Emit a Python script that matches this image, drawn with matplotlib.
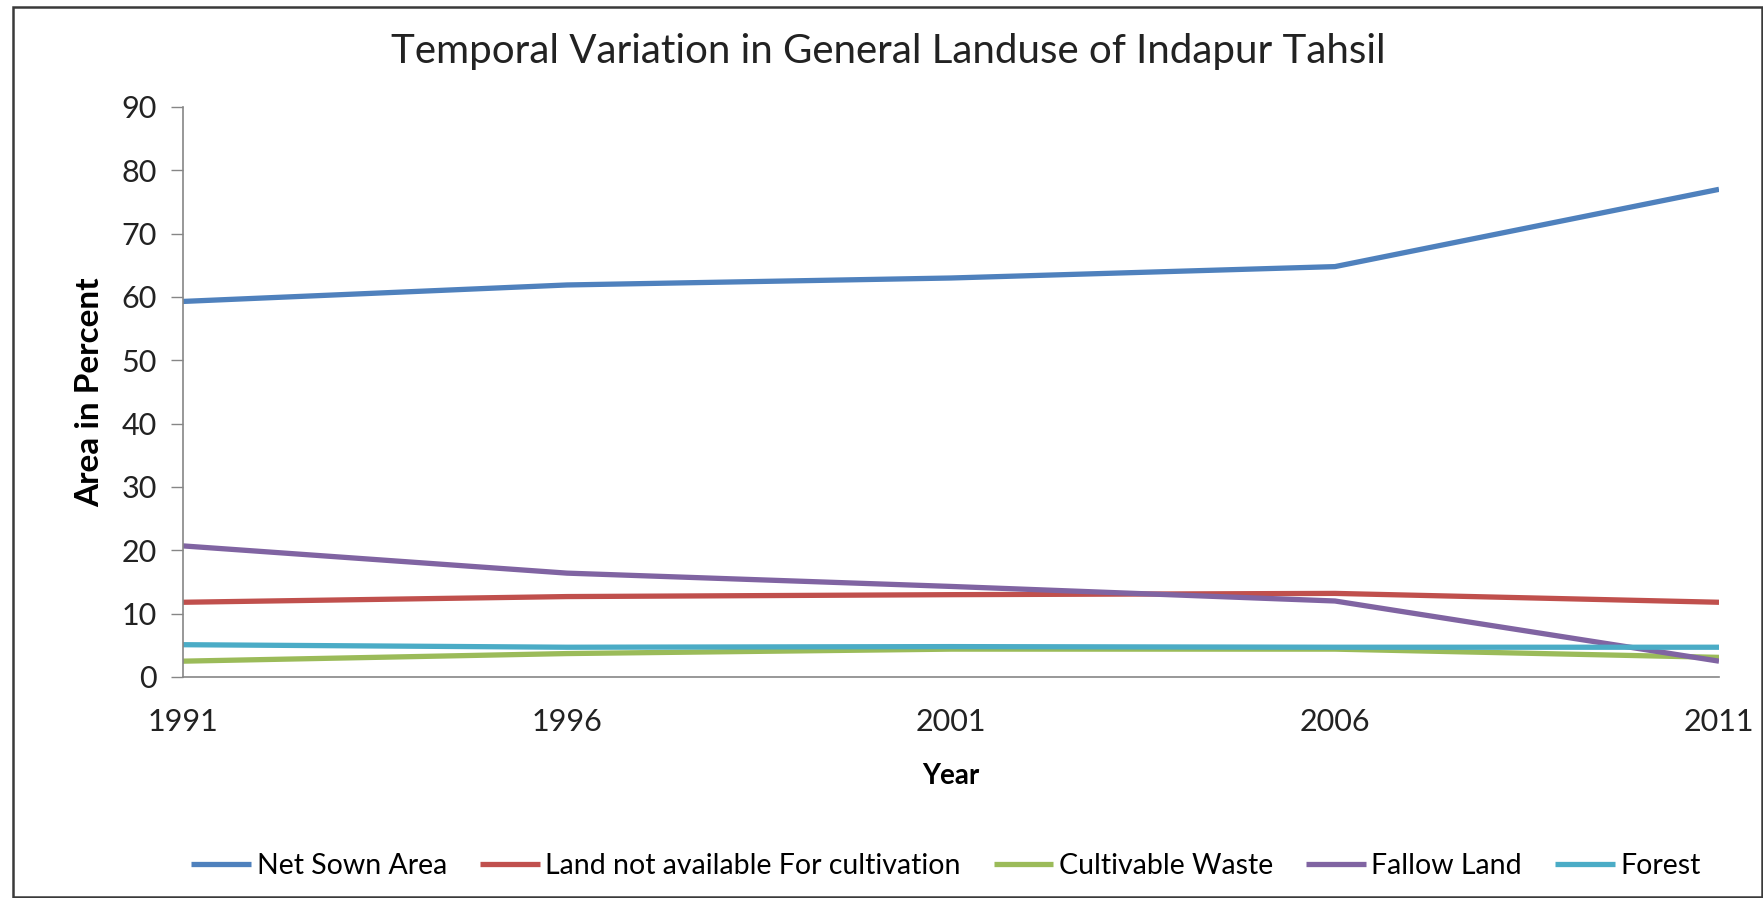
import matplotlib.pyplot as plt
from matplotlib.patches import Rectangle

plt.rcParams['font.family'] = ['Lato', 'DejaVu Sans']

years = [1991, 1996, 2001, 2006, 2011]
net_sown = [59.3, 61.9, 63.0, 64.8, 77.0]
not_available = [11.8, 12.7, 13.0, 13.2, 11.8]
cultivable_waste = [2.5, 3.7, 4.4, 4.4, 3.1]
fallow_land = [20.7, 16.4, 14.3, 12.0, 2.5]
forest = [5.1, 4.7, 4.8, 4.7, 4.7]

series = [
    ('Net Sown Area', net_sown, '#4F81BD'),
    ('Land not available For cultivation', not_available, '#C0504D'),
    ('Cultivable Waste', cultivable_waste, '#9BBB59'),
    ('Fallow Land', fallow_land, '#8064A2'),
    ('Forest', forest, '#4BACC6'),
]

W, H = 1763, 898
fig = plt.figure(figsize=(W / 100, H / 100), dpi=100)
ax = fig.add_axes([183 / W, 1 - 677 / H, (1719 - 183) / W, (677 - 107) / H])

for name, vals, col in series:
    ax.plot(years, vals, color=col, lw=3.8, label=name, solid_capstyle='butt')

ax.set_xlim(1991, 2011)
ax.set_ylim(0, 90)
ax.set_xticks(years)
ax.set_yticks(range(0, 91, 10))
ax.tick_params(axis='y', length=9, width=1, color='#868686', labelsize=22, pad=10,
               labelcolor='#222222')
ax.tick_params(axis='x', length=0, labelsize=22, pad=22, labelcolor='#222222')
for s in ['top', 'right']:
    ax.spines[s].set_visible(False)
for s in ['left', 'bottom']:
    ax.spines[s].set_color('#868686')
    ax.spines[s].set_linewidth(1.2)

ax.set_ylabel('Area in Percent', fontsize=24, fontweight='bold', labelpad=12)
ax.set_xlabel('Year', fontsize=20, fontweight='bold', labelpad=20)
fig.text(888 / W, 1 - 52 / H, 'Temporal Variation in General Landuse of Indapur Tahsil',
         fontsize=29, ha='center', va='center', color='#222222')

fig.legend(loc='center', bbox_to_anchor=(946 / W, 1 - 866 / H), ncol=5, frameon=False,
           fontsize=20.5, handlelength=2.1, handletextpad=0.2, columnspacing=1.15)

# outer chart frame
fig.patches.append(Rectangle((13 / W, 1 - 897 / H), (1762 - 13) / W, (897 - 7) / H,
                             transform=fig.transFigure, fill=False,
                             edgecolor='#3a3a3a', lw=1.8))

fig.savefig('out.png', dpi=100)
